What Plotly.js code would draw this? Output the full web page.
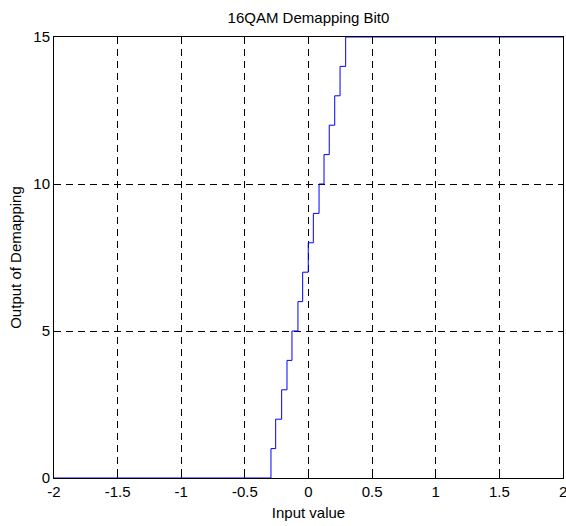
<!DOCTYPE html>
<html>
<head>
<meta charset="utf-8">
<script src="https://cdn.plot.ly/plotly-3.0.1.min.js"></script>
<style>html,body{margin:0;padding:0;background:#fff;}#chart{width:566px;height:526px;}</style>
</head>
<body>
<div id="chart"></div>
<script>
// Input values where the demapping output steps up by one level
const stepInputs = [-2, -0.295, -0.258, -0.211, -0.169, -0.130, -0.083, -0.046, -0.002, 0.038, 0.083, 0.122, 0.163, 0.206, 0.248, 0.292, 2];
const stepOutputs = [0, 1, 2, 3, 4, 5, 6, 7, 8, 9, 10, 11, 12, 13, 14, 15, 15];
const xTickVals = [-2, -1.5, -1, -0.5, 0, 0.5, 1, 1.5, 2];
const xTickText = ["-2", "-1.5", "-1", "-0.5", "0", "0.5", "1", "1.5", "2"];
const yTickVals = [0, 5, 10, 15];
const yTickText = ["0", "5", "10", "15"];

const fontFam = '"Liberation Sans", Arial, Helvetica, sans-serif';

const trace = {
  x: stepInputs,
  y: stepOutputs,
  type: 'scatter',
  mode: 'lines',
  line: {shape: 'hv', color: '#0000ff', width: 1},
  cliponaxis: false,
  hoverinfo: 'skip'
};

const axisCommon = {
  showline: true, linecolor: '#000', linewidth: 1, mirror: 'ticks',
  ticks: 'inside', ticklen: 5, tickcolor: '#000', tickwidth: 1,
  showgrid: true, gridcolor: '#000', gridwidth: 1, griddash: '7px,5px',
  zeroline: false, layer: 'below traces',
  tickfont: {family: fontFam, size: 15, color: '#000'},
  fixedrange: true
};

// The last x tick label sits on the page edge and is partly cut off, as in the reference
const lastIdx = xTickVals.length - 1;
const edgeLabel = {
  x: xTickVals[lastIdx], y: yTickVals[0], xref: 'x', yref: 'y',
  text: xTickText[lastIdx], showarrow: false,
  xanchor: 'center', yanchor: 'top', yshift: -3,
  font: {family: fontFam, size: 15, color: '#000'}
};

const layout = {
  width: 566, height: 526,
  margin: {l: 54, r: 3, t: 37, b: 48},
  paper_bgcolor: '#fff', plot_bgcolor: '#fff',
  showlegend: false,
  title: {text: '16QAM Demapping Bit0', x: 0.545, xanchor: 'center', y: 0.967, yanchor: 'middle',
          font: {family: fontFam, size: 15, color: '#000'}},
  xaxis: Object.assign({}, axisCommon, {
    range: [-2, 2], tickmode: 'array', tickvals: xTickVals, ticktext: xTickText,
    title: {text: 'Input value', font: {family: fontFam, size: 15, color: '#000'}, standoff: 8}
  }),
  yaxis: Object.assign({}, axisCommon, {
    range: [0, 15], tickmode: 'array', tickvals: yTickVals, ticktext: yTickText,
    title: {text: 'Output of Demapping', font: {family: fontFam, size: 15, color: '#000'}, standoff: 8}
  }),
  annotations: [edgeLabel]
};

Plotly.newPlot('chart', [trace], layout, {staticPlot: true, displayModeBar: false});
</script>
</body>
</html>
